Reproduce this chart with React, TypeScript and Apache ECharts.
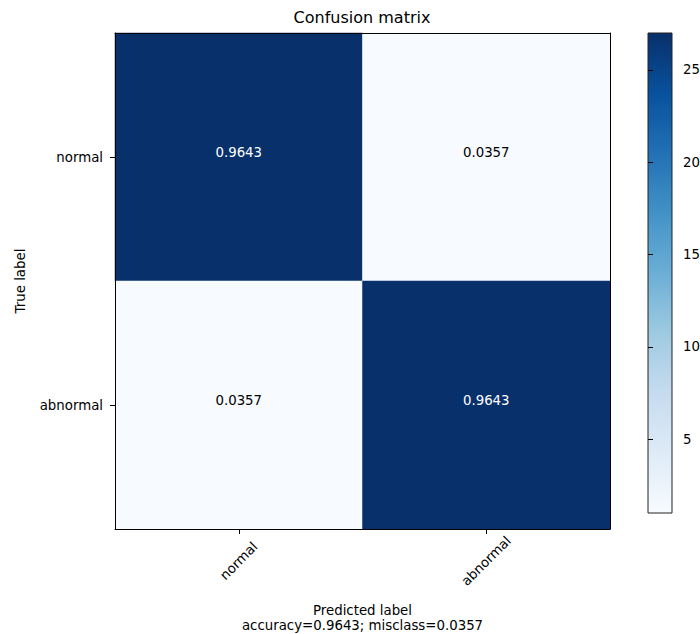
import React, { useEffect, useRef } from 'react';
import * as echarts from 'echarts';

const categories = ['normal', 'abnormal'];
const counts = [
  [27, 1],
  [1, 27],
];
const normalized = [
  [0.9643, 0.0357],
  [0.0357, 0.9643],
];
const colorbarTicks = [5, 10, 15, 20, 25];
const colorMin = 1;
const colorMax = 27;
const titleText = 'Confusion matrix';
const xName = 'Predicted label';
const yName = 'True label';
const footer = 'accuracy=0.9643; misclass=0.0357';
const bluesStops = ['#f7fbff', '#deebf7', '#c6dbef', '#9ecae1', '#6baed6', '#4292c6', '#2171b5', '#08519c', '#08306b'];

export default function App() {
  const ref = useRef<HTMLDivElement>(null);
  useEffect(() => {
    const chart = echarts.init(ref.current!, null, { renderer: 'svg' });
    const font = 'DejaVu Sans';
    const fs = 13.33;
    const ink = '#000';
    const thresh = colorMax / 2;
    const data: any[] = [];
    counts.forEach((row, i) =>
      row.forEach((v, j) =>
        data.push({ value: [j, i, v], label: { color: v > thresh ? '#ffffff' : '#000000' } })
      )
    );
    const n = bluesStops.length;
    const gradient = new echarts.graphic.LinearGradient(
      0, 0, 0, 1,
      bluesStops.map((c, i) => ({ offset: i / (n - 1), color: bluesStops[n - 1 - i] }))
    );
    const lineStyle = { color: ink, width: 1 };
    chart.setOption({
      animation: false,
      backgroundColor: '#ffffff',
      title: {
        text: titleText,
        left: 362,
        top: 9,
        padding: 0,
        textAlign: 'center',
        textStyle: { fontFamily: font, fontSize: 16, fontWeight: 'normal', color: ink },
      },
      grid: [
        { left: 115, top: 33, width: 495, height: 496, containLabel: false, outerBoundsMode: 'none' },
        {
          left: 648, top: 33, width: 24, height: 480, show: true,
          backgroundColor: gradient, borderColor: '#222', borderWidth: 1,
          containLabel: false, outerBoundsMode: 'none',
        },
      ],
      visualMap: {
        show: false,
        min: colorMin,
        max: colorMax,
        seriesIndex: 0,
        dimension: 2,
        inRange: { color: bluesStops },
      },
      xAxis: [
        {
          type: 'category', gridIndex: 0, data: categories, position: 'bottom', z: 10,
          axisLine: { show: true, lineStyle },
          axisTick: { show: true, alignWithLabel: true, length: 5, lineStyle },
          axisLabel: {
            rotate: 45, align: 'center', verticalAlign: 'middle', margin: 32,
            color: ink, fontSize: fs, fontFamily: font,
          },
          splitLine: { show: false },
          name: xName + '\n' + footer,
          nameLocation: 'middle',
          nameGap: 74,
          nameTextStyle: { color: ink, fontSize: fs, fontFamily: font, lineHeight: 15, align: 'center' },
        },
        {
          type: 'category', gridIndex: 0, data: categories, position: 'top', z: 10,
          axisLine: { show: true, lineStyle },
          axisTick: { show: false }, axisLabel: { show: false }, splitLine: { show: false },
        },
        { type: 'value', gridIndex: 1, show: false, min: 0, max: 1 },
      ],
      yAxis: [
        {
          type: 'category', gridIndex: 0, data: categories, inverse: true, position: 'left', z: 10,
          axisLine: { show: true, lineStyle },
          axisTick: { show: true, alignWithLabel: true, length: 5, lineStyle },
          axisLabel: { margin: 12, color: ink, fontSize: fs, fontFamily: font },
          splitLine: { show: false },
          name: yName,
          nameLocation: 'middle',
          nameGap: 88,
          nameTextStyle: { color: ink, fontSize: fs, fontFamily: font },
        },
        {
          type: 'category', gridIndex: 0, data: categories, inverse: true, position: 'right', z: 10,
          axisLine: { show: true, lineStyle },
          axisTick: { show: false }, axisLabel: { show: false }, splitLine: { show: false },
        },
        {
          type: 'value', gridIndex: 1, position: 'right', min: colorMin, max: colorMax,
          axisLine: { show: false },
          axisTick: { show: true, length: 5, lineStyle, customValues: colorbarTicks },
          axisLabel: { customValues: colorbarTicks, margin: 11, color: ink, fontSize: fs, fontFamily: font },
          splitLine: { show: false },
        },
      ],
      series: [
        {
          type: 'heatmap', xAxisIndex: 0, yAxisIndex: 0, data,
          label: {
            show: true, fontSize: fs, fontFamily: font, offset: [0, -5],
            formatter: (p: any) => normalized[p.value[1]][p.value[0]].toFixed(4),
          },
          itemStyle: { borderWidth: 0 },
          emphasis: { disabled: true },
        },
        { type: 'line', xAxisIndex: 2, yAxisIndex: 2, data: [], silent: true },
      ],
    });
    return () => chart.dispose();
  }, []);
  return <div ref={ref} style={{ position: 'fixed', left: 0, top: 0, width: 700, height: 634 }} />;
}
